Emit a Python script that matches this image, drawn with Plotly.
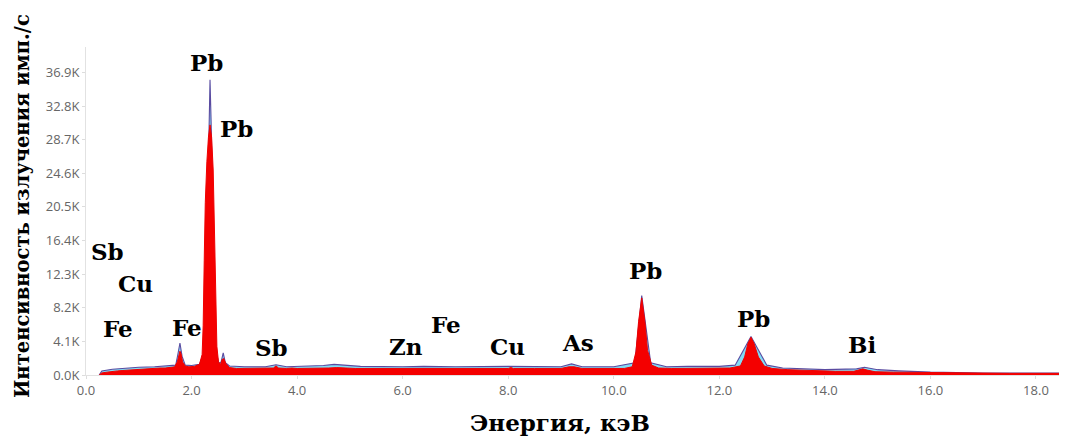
import plotly.graph_objects as go

# Red spectrum (front)
energy_a = [0.25, 0.30, 0.40, 0.50, 0.60, 0.70, 0.80, 0.90, 1.00, 1.10, 1.20, 1.30, 1.40, 1.50, 1.60,
            1.68, 1.73, 1.76, 1.78, 1.80, 1.83, 1.88, 1.95, 2.05, 2.15, 2.20, 2.22, 2.24, 2.26, 2.29,
            2.32, 2.35, 2.38, 2.41, 2.44, 2.46, 2.48, 2.51, 2.55, 2.58, 2.61, 2.65, 2.72, 2.85, 3.00,
            3.20, 3.40, 3.55, 3.60, 3.65, 3.80, 3.90, 4.00, 4.20, 4.40, 4.60, 4.75, 4.90, 5.10, 5.40,
            5.70, 6.00, 6.20, 6.40, 6.60, 7.00, 7.40, 7.50, 7.60, 8.00, 8.05, 8.10, 8.50, 9.00, 9.15,
            9.25, 9.40, 9.80, 10.20, 10.35, 10.42, 10.47, 10.53, 10.59, 10.64, 10.72, 10.85, 11.10,
            11.40, 11.80, 12.20, 12.40, 12.48, 12.54, 12.60, 12.66, 12.74, 12.85, 13.00, 13.30, 13.70,
            14.20, 14.55, 14.65, 14.72, 14.80, 14.95, 15.30, 15.80, 16.50, 17.50, 18.55]
counts_a = [0, 250, 350, 450, 500, 550, 600, 650, 700, 700, 750, 800, 850, 850, 900,
            1000, 1600, 2500, 2900, 2600, 1600, 1100, 1000, 1050, 1300, 2500, 6000, 14000, 21000, 26000,
            29000, 30500, 29000, 25000, 16000, 8000, 3500, 1600, 1300, 1900, 2000, 1400, 900, 800, 800,
            850, 800, 850, 1100, 850, 800, 850, 800, 800, 800, 850, 900, 850, 800, 800,
            800, 800, 800, 850, 800, 800, 800, 850, 800, 800, 900, 800, 800, 800, 1000,
            1000, 800, 780, 800, 1000, 2800, 6500, 9400, 6500, 3000, 1200, 850, 800,
            800, 800, 850, 1100, 2200, 3800, 4600, 3800, 2200, 1100, 800, 650, 550,
            450, 450, 650, 750, 600, 400, 350, 300, 250, 200, 200]

# Second spectrum (behind)
energy_b = [0.25, 0.30, 0.50, 0.80, 1.00, 1.30, 1.60, 1.70, 1.74, 1.78, 1.82, 1.88, 2.00, 2.15, 2.25,
            2.30, 2.33, 2.35, 2.37, 2.40, 2.46, 2.52, 2.56, 2.60, 2.64, 2.72, 3.00, 3.40, 3.60, 3.80,
            4.20, 4.50, 4.70, 4.90, 5.20, 6.00, 6.40, 7.00, 8.00, 9.00, 9.20, 9.40, 10.00, 10.40,
            10.53, 10.70, 11.00, 11.40, 12.00, 12.30, 12.60, 12.90, 13.20, 14.00, 14.60, 14.75, 15.00,
            15.40, 16.00, 17.00, 18.55]
counts_b = [0, 500, 700, 850, 950, 1000, 1100, 1200, 2500, 3900, 2300, 1200, 1150, 1300, 3000,
            20000, 31000, 36000, 31000, 20000, 3000, 1400, 1600, 2700, 1500, 1100, 1000, 1000, 1250, 1000,
            1050, 1150, 1300, 1200, 1050, 1000, 1050, 1000, 1050, 1000, 1350, 1000, 1000, 1500,
            9700, 1500, 1000, 1050, 1050, 1200, 4700, 1200, 850, 650, 750, 950, 650,
            500, 350, 250, 250]

# Tick labels
y_tickvals = [0, 4100, 8200, 12300, 16400, 20500, 24600, 28700, 32800, 36900]
y_ticktext = ["0.0K", "4.1K", "8.2K", "12.3K", "16.4K", "20.5K", "24.6K", "28.7K", "32.8K", "36.9K"]
x_tickvals = [0, 2, 4, 6, 8, 10, 12, 14, 16, 18]
x_ticktext = ["0.0", "2.0", "4.0", "6.0", "8.0", "10.0", "12.0", "14.0", "16.0", "18.0"]

# Element labels
label_text = ["Pb", "Pb", "Sb", "Cu", "Fe", "Fe", "Sb", "Zn", "Fe", "Cu", "As", "Pb", "Pb", "Bi"]
label_x = [2.29, 2.86, 0.40, 0.93, 0.61, 1.91, 3.52, 6.06, 6.82, 7.99, 9.32, 10.60, 12.65, 14.70]
label_y = [38080, 30050, 15090, 11190, 5720, 5840, 3410, 3530, 6200, 3530, 4010, 12770, 6930, 3770]

fig = go.Figure()
fig.add_trace(go.Scatter(x=energy_b, y=counts_b, mode="lines", fill="tozeroy",
                         line=dict(color="#5a4aa0", width=1.1),
                         fillcolor="rgba(130,220,245,1)", showlegend=False))
fig.add_trace(go.Scatter(x=energy_a, y=counts_a, mode="lines", fill="tozeroy",
                         line=dict(color="#f00000", width=1),
                         fillcolor="#f40000", showlegend=False))

serif = "DejaVu Serif"
for t, x, y in zip(label_text, label_x, label_y):
    fig.add_annotation(x=x, y=y, text="<b>%s</b>" % t, showarrow=False,
                       font=dict(family=serif, size=23, color="black"),
                       xanchor="center", yanchor="middle")

fig.add_annotation(xref="paper", yref="paper", x=-0.0654, y=0.515,
                   text="<b>Интенсивность излучения имп./с</b>", textangle=-90,
                   showarrow=False, font=dict(family=serif, size=19.5, color="black"),
                   xanchor="center", yanchor="middle")
fig.add_annotation(xref="paper", yref="paper", x=0.484, y=-0.146,
                   text="<b>Энергия, кэВ</b>", showarrow=False,
                   font=dict(family=serif, size=23, color="black"),
                   xanchor="center", yanchor="middle")

# page body adds an 8px margin: size and margins compensate for it
fig.update_layout(
    width=1059, height=431,
    margin=dict(l=78, r=2, t=39, b=64),
    paper_bgcolor="white", plot_bgcolor="white",
    font=dict(family="Open Sans", size=13, color="#666"),
    xaxis=dict(range=[0, 18.55], tickvals=x_tickvals, ticktext=x_ticktext,
               showgrid=False, zeroline=False, showline=True, linecolor="#e2e2e2",
               ticks="outside", ticklen=3, tickcolor="#dddddd",
               tickfont=dict(family="Open Sans", size=13, color="#666")),
    yaxis=dict(range=[0, 40000], tickvals=y_tickvals, ticktext=y_ticktext,
               showgrid=False, zeroline=False, showline=True, linecolor="#e2e2e2",
               ticks="outside", ticklen=3, tickcolor="#dddddd",
               tickfont=dict(family="Open Sans", size=13, color="#666")),
)

fig.write_html("out.html")
